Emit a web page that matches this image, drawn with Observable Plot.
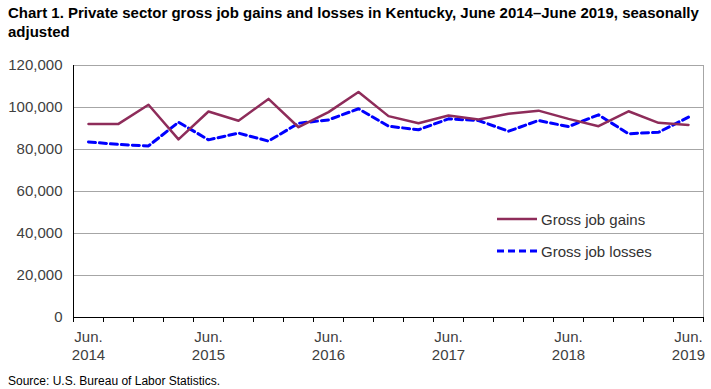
<!DOCTYPE html>
<html><head><meta charset="utf-8">
<script src="https://cdn.jsdelivr.net/npm/d3@7"></script>
<script src="https://cdn.jsdelivr.net/npm/@observablehq/plot@0.6"></script>
<style>
body{margin:0;background:#fff;font-family:"Liberation Sans",Arial,sans-serif;}
#wrap{position:relative;width:711px;height:389px;overflow:hidden;}
#title{position:absolute;left:8px;top:3px;white-space:nowrap;font-weight:bold;font-size:15px;line-height:19px;color:#000;}
#chart{position:absolute;left:0;top:45px;}
#source{position:absolute;left:8px;top:374px;font-size:12px;color:#000}
#legend{position:absolute;left:497px;top:203px;font-size:15px;color:#333}
#legend .row{display:flex;align-items:center;height:32px;}
#legend svg{margin-right:4px;}
</style></head>
<body>
<div id="wrap">
<div id="title">Chart 1. Private sector gross job gains and losses in Kentucky, June 2014–June 2019, seasonally<br>adjusted</div>
<div id="chart"></div>
<div id="legend">
  <div class="row"><svg width="40" height="6"><line x1="0" x2="40" y1="3" y2="3" stroke="#8e2c5a" stroke-width="2.5"/></svg>Gross job gains</div>
  <div class="row"><svg width="40" height="6"><line x1="0" x2="40" y1="3" y2="3" stroke="#0000ff" stroke-width="3" stroke-dasharray="7,4"/></svg>Gross job losses</div>
</div>
<div id="source">Source: U.S. Bureau of Labor Statistics.</div>
</div>
<script>
const quarters = ["Jun. 2014","Sep. 2014","Dec. 2014","Mar. 2015","Jun. 2015","Sep. 2015","Dec. 2015","Mar. 2016","Jun. 2016","Sep. 2016","Dec. 2016","Mar. 2017","Jun. 2017","Sep. 2017","Dec. 2017","Mar. 2018","Jun. 2018","Sep. 2018","Dec. 2018","Mar. 2019","Jun. 2019"];
const gains = [92200,92200,101300,84800,98100,93700,104100,90600,97800,107400,95900,92500,96200,94300,97000,98500,94600,91100,98200,92700,91700];
const losses = [83600,82400,81700,93000,84600,87800,84000,92500,94100,99400,91100,89400,94600,93800,88700,93800,90900,96500,87500,88200,95400];
const yTicks = [0,20000,40000,60000,80000,100000,120000];
const xLabels = ["Jun.\n2014","Jun.\n2015","Jun.\n2016","Jun.\n2017","Jun.\n2018","Jun.\n2019"];

const gainsData = quarters.map((q,i)=>({i, v:gains[i]}));
const lossesData = quarters.map((q,i)=>({i, v:losses[i]}));
const tickPos = d3.range(quarters.length+1).map(k=>k-0.5);
const labelPos = quarters.map((q,i)=>i).filter(i=>quarters[i].startsWith("Jun."));

const chart = Plot.plot({
  width:711, height:325,
  marginLeft:73, marginRight:8, marginTop:20, marginBottom:53,
  style:{fontFamily:'"Liberation Sans",Arial,sans-serif', background:"transparent"},
  x:{type:"linear", domain:[-0.5, quarters.length-0.5]},
  y:{domain:[0,120000]},
  marks:[
    Plot.ruleY(yTicks, {stroke:"#a6a6a6", strokeWidth:1}),
    Plot.frame({stroke:"#a6a6a6"}),
    Plot.axisY({ticks:yTicks, tickSize:0, tickPadding:11, tickFormat:d3.format(","), fontSize:15, fill:"#404040", label:null}),
    Plot.axisX({ticks:tickPos, tickSize:5, tickFormat:()=>"", label:null, stroke:"#000"}),
    Plot.axisX({ticks:labelPos, tickSize:0, tickPadding:12, tickFormat:i=>xLabels[labelPos.indexOf(i)], fontSize:15, lineHeight:1.2, fill:"#404040", label:null}),
    Plot.ruleX([-0.5], {stroke:"#000"}),
    Plot.ruleY([0], {stroke:"#000"}),
    Plot.line(lossesData, {x:"i", y:"v", stroke:"#0000ff", strokeWidth:3, strokeDasharray:"7,4"}),
    Plot.line(gainsData, {x:"i", y:"v", stroke:"#8e2c5a", strokeWidth:2.5})
  ]
});
document.getElementById("chart").appendChild(chart);
</script>
</body></html>
